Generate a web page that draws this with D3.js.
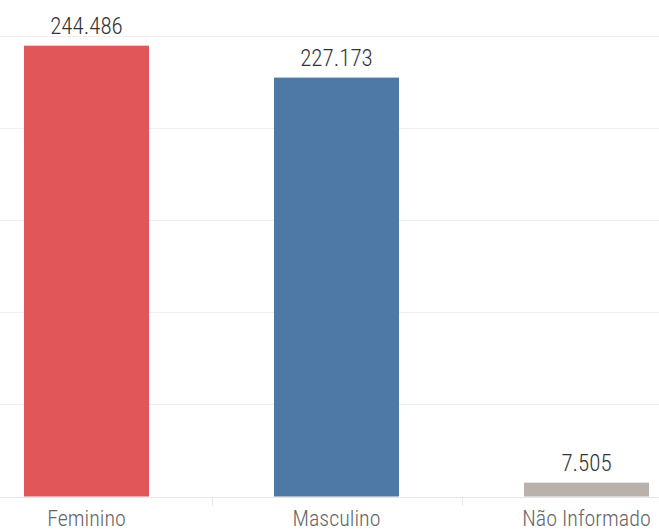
<!DOCTYPE html>
<html>
<head>
<meta charset="utf-8">
<script src="https://cdn.jsdelivr.net/npm/d3@7"></script>
<style>
  body { margin: 0; background: #fff; }
  text { font-family: "Liberation Sans Narrow", "Roboto Condensed", "DejaVu Sans Condensed", Lato, sans-serif; font-weight: 300; }
</style>
</head>
<body>
<div id="chart"></div>
<script>
// data
var categories = ["Feminino", "Masculino", "Não Informado"];
var values = [244486, 227173, 7505];
var colors = ["#E15759", "#4E79A7", "#BAB0AC"];
var gridTicks = [0, 50000, 100000, 150000, 200000, 250000];

var width = 659, height = 530;

var svg = d3.select("#chart")
  .append("svg")
    .attr("width", width)
    .attr("height", height);

// x scale - bands are wider than the view, the chart is cropped
var x = d3.scaleBand()
  .domain(categories)
  .range([-38.5, 711.5])
  .paddingInner(0.5)
  .paddingOuter(0.25);

var y = d3.scaleLinear()
  .domain([0, 250000])
  .range([496.5, 35.5]);

// gridlines
svg.append("g")
  .selectAll("line")
  .data(gridTicks)
  .enter()
  .append("line")
    .attr("x1", 0)
    .attr("x2", width)
    .attr("y1", function(d) { return Math.round(y(d)) + 0.5; })
    .attr("y2", function(d) { return Math.round(y(d)) + 0.5; })
    .attr("stroke", function(d) { return d === 0 ? "#e6e6e6" : "#efefef"; })
    .attr("stroke-width", 1);

// bars
svg.append("g")
  .selectAll("rect")
  .data(values)
  .enter()
  .append("rect")
    .attr("x", function(d, i) { return x(categories[i]); })
    .attr("y", function(d) { return y(d); })
    .attr("width", x.bandwidth())
    .attr("height", function(d) { return y(0) - y(d); })
    .attr("fill", function(d, i) { return colors[i]; });

// value labels
var fmt = d3.formatLocale({decimal: ",", thousands: ".", grouping: [3], currency: ["", ""]}).format(",");
svg.append("g")
  .selectAll("text")
  .data(values)
  .enter()
  .append("text")
    .attr("x", function(d, i) { return x(categories[i]) + x.bandwidth() / 2; })
    .attr("y", function(d) { return y(d) - 12; })
    .attr("text-anchor", "middle")
    .attr("font-size", 23)
    .attr("fill", "#333")
    .text(function(d) { return fmt(d); });

// x axis separators between bands
var step = x.step();
svg.append("g")
  .selectAll("line")
  .data(categories.slice(1))
  .enter()
  .append("line")
    .attr("x1", function(d) { return Math.round(x(d) - step * x.paddingInner() / 2) + 0.5; })
    .attr("x2", function(d) { return Math.round(x(d) - step * x.paddingInner() / 2) + 0.5; })
    .attr("y1", y(0) + 1)
    .attr("y2", y(0) + 9)
    .attr("stroke", "#e6e6e6");

// category labels
svg.append("g")
  .selectAll("text")
  .data(categories)
  .enter()
  .append("text")
    .attr("x", function(d) { return x(d) + x.bandwidth() / 2; })
    .attr("y", 526)
    .attr("text-anchor", "middle")
    .attr("font-size", 22)
    .attr("fill", "#666")
    .text(function(d) { return d; });
</script>
</body>
</html>
